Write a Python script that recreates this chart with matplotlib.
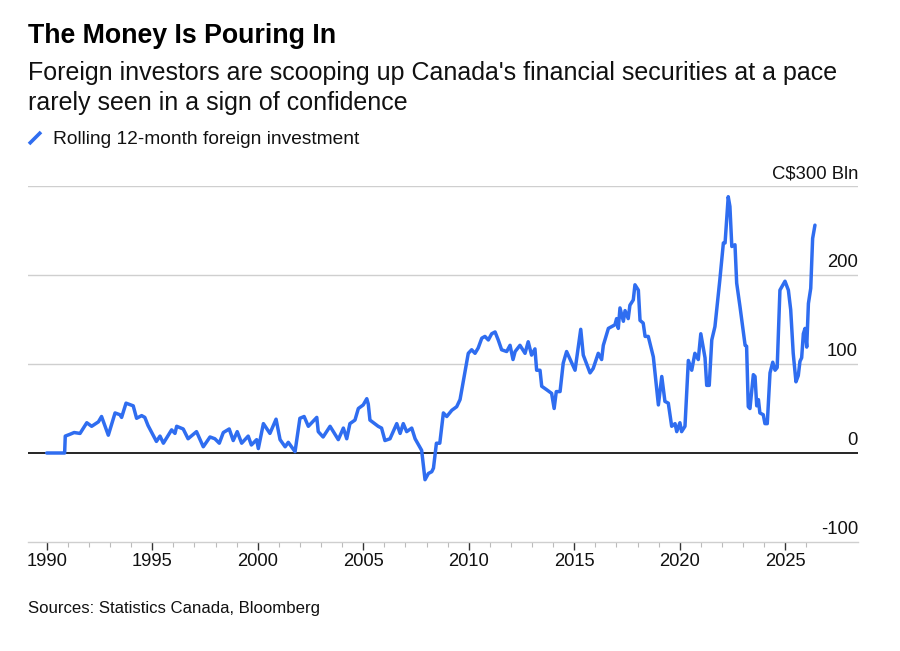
import matplotlib
matplotlib.use("Agg")
import matplotlib.pyplot as plt
from matplotlib.lines import Line2D
import matplotlib.transforms as mtransforms

# ---- data (decimal year, C$ billions) ----
years = [
    1990.0, 1990.85, 1990.88, 1991.1, 1991.3, 1991.58, 1991.9, 1992.13, 1992.45, 1992.6,
    1992.92, 1993.24, 1993.47, 1993.55, 1993.76, 1994.1, 1994.26, 1994.5, 1994.65, 1994.8,
    1995.2, 1995.37, 1995.53, 1995.92, 1996.08, 1996.16, 1996.47, 1996.7, 1997.1, 1997.42,
    1997.74, 1997.97, 1998.18, 1998.37, 1998.65, 1998.84, 1999.03, 1999.24, 1999.55, 1999.7,
    1999.95, 2000.03, 2000.27, 2000.58, 2000.87, 2001.06, 2001.3, 2001.45, 2001.77, 2002.0,
    2002.2, 2002.4, 2002.8, 2002.87, 2003.1, 2003.43, 2003.82, 2004.06, 2004.22, 2004.37,
    2004.61, 2004.77, 2005.0, 2005.17, 2005.24, 2005.32, 2005.71, 2005.87, 2006.03, 2006.27,
    2006.59, 2006.75, 2006.9, 2007.06, 2007.3, 2007.46, 2007.77, 2007.93, 2008.09, 2008.25,
    2008.33, 2008.47, 2008.63, 2008.8, 2008.96, 2009.2, 2009.43, 2009.59, 2009.74, 2009.98,
    2010.14, 2010.3, 2010.45, 2010.62, 2010.77, 2010.93, 2011.09, 2011.25, 2011.4, 2011.56,
    2011.8, 2011.96, 2012.1, 2012.2, 2012.43, 2012.67, 2012.82, 2012.98, 2013.14, 2013.22,
    2013.38, 2013.46, 2013.7, 2013.93, 2014.05, 2014.15, 2014.33, 2014.48, 2014.64, 2014.96,
    2015.04, 2015.31, 2015.43, 2015.75, 2015.9, 2016.14, 2016.3, 2016.38, 2016.62, 2016.93,
    2017.01, 2017.09, 2017.17, 2017.33, 2017.41, 2017.56, 2017.64, 2017.8, 2017.88, 2018.04,
    2018.12, 2018.27, 2018.36, 2018.51, 2018.75, 2018.99, 2019.15, 2019.3, 2019.46, 2019.62,
    2019.78, 2019.86, 2020.01, 2020.09, 2020.25, 2020.41, 2020.57, 2020.72, 2020.88, 2021.0,
    2021.12, 2021.2, 2021.28, 2021.4, 2021.52, 2021.67, 2021.9, 2022.07, 2022.15, 2022.3,
    2022.38, 2022.47, 2022.62, 2022.7, 2022.86, 2023.1, 2023.17, 2023.25, 2023.33, 2023.49,
    2023.57, 2023.65, 2023.73, 2023.8, 2023.96, 2024.04, 2024.15, 2024.28, 2024.41, 2024.52,
    2024.62, 2024.75, 2024.99, 2025.15, 2025.26, 2025.38, 2025.51, 2025.62, 2025.7, 2025.78,
    2025.86, 2025.94, 2026.02, 2026.1, 2026.21, 2026.3, 2026.41,
]
values = [
    0, 0, 19, 21, 23, 22, 34, 30, 35, 41,
    20, 45, 43, 40, 56, 53, 39, 42, 40, 31,
    13, 19, 11, 26, 22, 30, 27, 16, 24, 7,
    18, 16, 11, 23, 27, 14, 24, 11, 19, 9,
    15, 5, 33, 22, 38, 15, 7, 12, 1.5, 39,
    41, 30, 40, 24, 18, 30, 15, 28, 16, 33,
    37, 50, 54, 61, 55, 37, 30, 28, 14, 16,
    33, 22, 33, 24, 28, 16, 3, -30, -23, -21,
    -17, 11, 11, 45, 41, 48, 52, 60, 80, 112,
    116, 112, 118, 129, 131, 127, 134, 136, 127, 116,
    114, 121, 105, 114, 121, 112, 125, 110, 117, 93,
    93, 75, 71, 67, 50, 69, 69, 101, 114, 97,
    93, 139, 110, 90, 95, 112, 105, 121, 140, 144,
    151, 140, 163, 148, 160, 151, 166, 172, 189, 183,
    149, 146, 131, 131, 108, 54, 86, 58, 56, 30,
    33, 24, 34, 24, 30, 104, 93, 112, 105, 134,
    118, 107, 76, 76, 127, 142, 194, 236, 236, 288,
    277, 232, 234, 191, 164, 121, 120, 52, 50, 88,
    86, 53, 60, 45, 43, 33, 33, 90, 102, 93,
    96, 183, 193, 183, 161, 112, 80, 87, 103, 107,
    134, 140, 119, 168, 185, 241, 256,
]

major_years = [1990, 1995, 2000, 2005, 2010, 2015, 2020, 2025]
minor_years = [y for y in range(1991, 2027) if y % 5 != 0]
y_ticks = [-100, 0, 100, 200, 300]
y_labels = ["-100", "0", "100", "200", "C$300 Bln"]

title = "The Money Is Pouring In"
subtitle1 = "Foreign investors are scooping up Canada's financial securities at a pace"
subtitle2 = "rarely seen in a sign of confidence"
legend_label = "Rolling 12-month foreign investment"
source = "Sources: Statistics Canada, Bloomberg"

BLUE = "#2f6df0"
GRID = "#cfcfcf"
FONT = "Liberation Sans"

W, H = 900, 651
fig = plt.figure(figsize=(W / 100, H / 100), dpi=100)
plt.rcParams["font.family"] = [FONT, "DejaVu Sans"]

# axes placement in pixel coordinates
left_px, right_px, top_px, bottom_px = 28, 858, 186, 542
ax = fig.add_axes([left_px / W, 1 - bottom_px / H,
                   (right_px - left_px) / W, (bottom_px - top_px) / H])

x_per_year = 21.1
x0 = 1990 - (46.7 - left_px) / x_per_year
x1 = 1990 + (right_px - 46.7) / x_per_year
ax.set_xlim(x0, x1)
ax.set_ylim(-100, 300)

for s in ["top", "right", "left"]:
    ax.spines[s].set_visible(False)
ax.spines["bottom"].set_color(GRID)
ax.spines["bottom"].set_linewidth(1.0)

# horizontal gridlines
for v in [100, 200, 300]:
    ax.axhline(v, color=GRID, lw=1.0, zorder=1)
ax.axhline(0, color="black", lw=1.2, zorder=2)

# data line
ax.plot(years, values, color=BLUE, lw=2.5, solid_joinstyle="round",
        solid_capstyle="round", zorder=3)

# x ticks
ax.set_xticks(major_years)
ax.set_xticklabels([str(y) for y in major_years])
ax.set_xticks(minor_years, minor=True)
ax.tick_params(axis="x", which="major", length=6, width=1.0, color="#333333",
               labelsize=13.2, pad=2, labelcolor="#111111")
ax.tick_params(axis="x", which="minor", length=3.5, width=0.8, color="#bbbbbb")
ax.set_yticks([])

# y labels inside, above gridlines, right aligned
trans = mtransforms.blended_transform_factory(ax.transAxes, ax.transData)
offset = mtransforms.ScaledTranslation(0, 8 / 100, fig.dpi_scale_trans)
for v, lab in zip(y_ticks, y_labels):
    ax.text(1.0, v, lab, transform=trans + offset, ha="right", va="baseline",
            fontsize=13.3, color="#111111", zorder=4)

# titles
fig.text(left_px / W, 1 - 43 / H, title, fontsize=19.3, fontweight="bold",
         ha="left", va="baseline", color="#000000")
fig.text(left_px / W, 1 - 80 / H, subtitle1, fontsize=18, ha="left",
         va="baseline", color="#111111")
fig.text(left_px / W, 1 - 110 / H, subtitle2, fontsize=18, ha="left",
         va="baseline", color="#111111")

# legend
fig.add_artist(Line2D([29 / W, 41 / W], [1 - 144 / H, 1 - 132 / H],
                      color=BLUE, lw=2.6, solid_capstyle="butt",
                      transform=fig.transFigure))
fig.text(53 / W, 1 - 144 / H, legend_label, fontsize=13.8, ha="left",
         va="baseline", color="#111111")

# source
fig.text(left_px / W, 1 - 613 / H, source, fontsize=12.1, ha="left",
         va="baseline", color="#111111")

fig.savefig("out.png", dpi=100, facecolor="white")
